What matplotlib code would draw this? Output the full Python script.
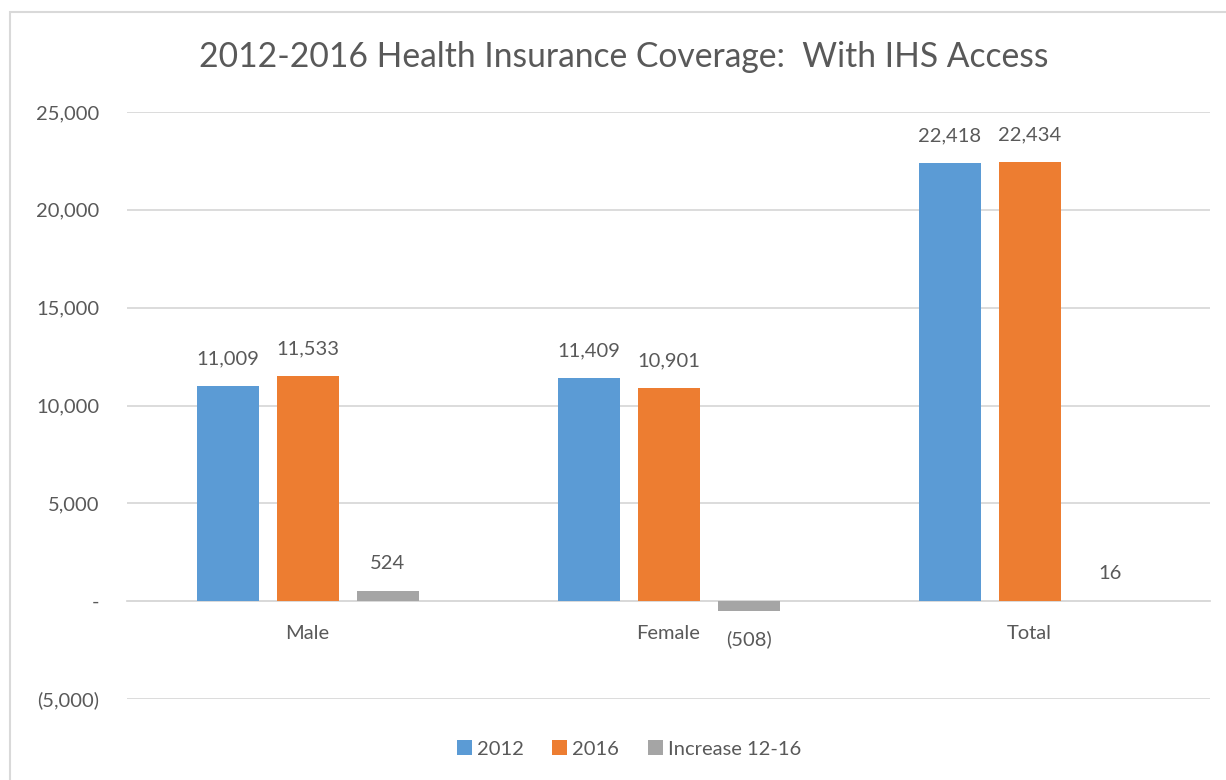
import matplotlib.pyplot as plt
from matplotlib.patches import Rectangle
from matplotlib.ticker import FuncFormatter
import numpy as np

categories = ["Male", "Female", "Total"]
series_names = ["2012", "2016", "Increase 12-16"]
vals_2012 = [11009, 11409, 22418]
vals_2016 = [11533, 10901, 22434]
vals_incr = [524, -508, 16]
colors = ["#5B9BD5", "#ED7D31", "#A5A5A5"]
txt = "#595959"

plt.rcParams['font.family'] = ['Lato', 'DejaVu Sans']


def money(v):
    if v == 0:
        return "-"
    if v < 0:
        return "({:,.0f})".format(abs(v))
    return "{:,.0f}".format(v)


fig = plt.figure(figsize=(12.26, 7.8), dpi=100)
ax = fig.add_axes([0.1036, 0.1038, 0.8834, 0.7526])

# chart border
fig.patches.append(Rectangle((10 / 1226, -0.05), 1.2, 1 - 12 / 780 + 0.05,
                             transform=fig.transFigure, fill=False,
                             edgecolor="#D9D9D9", linewidth=1.5))

x = np.arange(len(categories))
w = 62 / 361
step = 80 / 361
all_vals = [vals_2012, vals_2016, vals_incr]
for i, (name, vals) in enumerate(zip(series_names, all_vals)):
    pos = x + (i - 1) * step
    ax.bar(pos, vals, width=w, color=colors[i], label=name, zorder=3)
    for p, v in zip(pos, vals):
        off = 27 if v >= 0 else -28
        ax.annotate(money(v), (p, v), xytext=(0, off), textcoords="offset pixels",
                    ha="center", va="center", fontsize=14.5, color=txt)

ax.set_xlim(-0.5, 2.5)
ax.set_ylim(-5000, 25000)
ax.set_yticks(range(-5000, 25001, 5000))
ax.yaxis.set_major_formatter(FuncFormatter(lambda v, p: money(v)))
ax.grid(axis="y", color="#D9D9D9", linewidth=1.3, zorder=0)
ax.set_xticks(x)
ax.set_xticklabels(categories)
for s in ["top", "right", "left"]:
    ax.spines[s].set_visible(False)
ax.spines["bottom"].set_position(("data", 0))
ax.spines["bottom"].set_color("#D9D9D9")
ax.spines["bottom"].set_linewidth(1.3)
ax.tick_params(axis="both", length=0, labelsize=14.5, labelcolor=txt)
ax.tick_params(axis="y", pad=20)
ax.tick_params(axis="x", pad=17)

fig.suptitle("2012-2016 Health Insurance Coverage:  With IHS Access",
             x=0.509, y=1 - 57 / 780, va="center", fontsize=24.2, color=txt)

ax.legend(loc="center", bbox_to_anchor=(0.4635, (780 - 749 - 81) / 587), ncol=3,
          frameon=False, fontsize=14.5, handlelength=0.75, handleheight=0.75,
          handletextpad=0.25, columnspacing=1.4, labelcolor=txt)

fig.savefig("out.png", dpi=100)
